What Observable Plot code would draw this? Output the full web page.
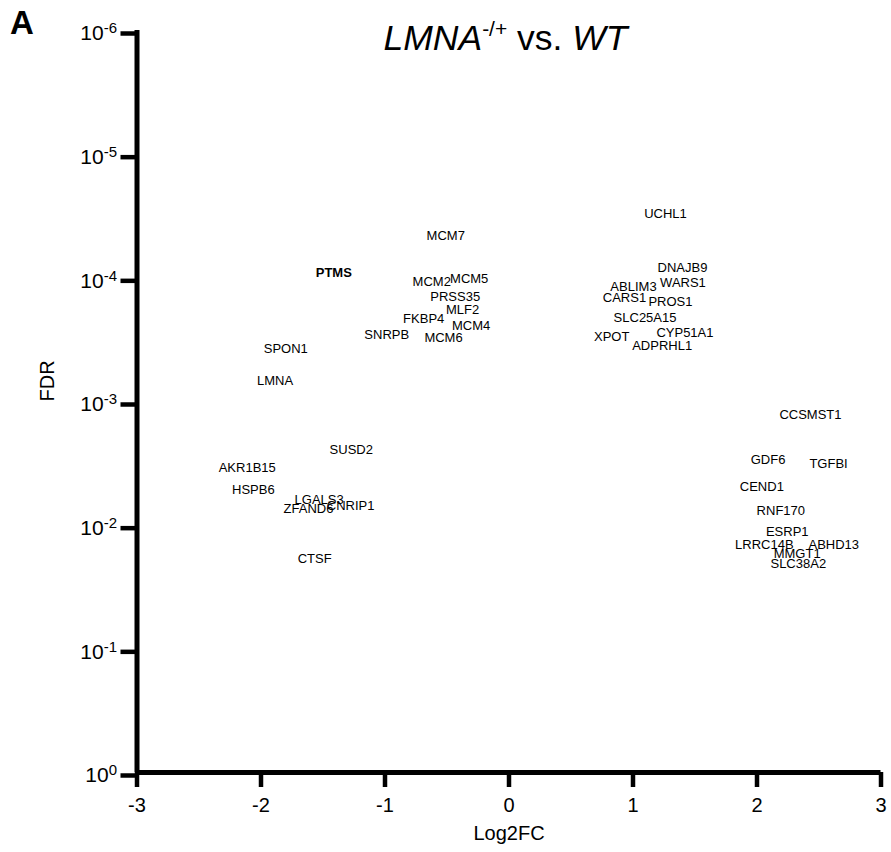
<!DOCTYPE html>
<html>
<head>
<meta charset="utf-8">
<script src="https://cdn.jsdelivr.net/npm/d3@7"></script>
<script src="https://cdn.jsdelivr.net/npm/@observablehq/plot@0.6"></script>
<style>
  body { margin: 0; background: #fff; }
  #chart svg { display: block; }
</style>
</head>
<body>
<div id="chart"></div>
<script>
// Differentially expressed genes: LMNA-/+ vs. WT
const genes = [
  "MCM7", "PTMS", "MCM2", "MCM5", "PRSS35", "MLF2", "FKBP4", "MCM4", "SNRPB", "MCM6",
  "UCHL1", "DNAJB9", "WARS1", "ABLIM3", "CARS1", "PROS1", "SLC25A15", "CYP51A1", "XPOT", "ADPRHL1",
  "SPON1", "LMNA", "SUSD2", "AKR1B15", "HSPB6", "LGALS3", "ZFAND6", "CNRIP1", "CTSF",
  "CCSMST1", "GDF6", "TGFBI", "CEND1", "RNF170", "ESRP1", "LRRC14B", "ABHD13", "MMGT1", "SLC38A2"
];
const log2fc = [
  -0.510, -1.413, -0.623, -0.321, -0.434, -0.375, -0.688, -0.306, -0.986, -0.528,
  1.262, 1.399, 1.403, 1.004, 0.931, 1.302, 1.097, 1.419, 0.828, 1.235,
  -1.800, -1.887, -1.272, -2.111, -2.062, -1.531, -1.617, -1.277, -1.567,
  2.431, 2.089, 2.577, 2.039, 2.192, 2.244, 2.059, 2.619, 2.324, 2.333
];
const fdr = [
  4.54e-5, 9.16e-5, 1.08e-4, 1.02e-4, 1.43e-4, 1.81e-4, 2.14e-4, 2.43e-4, 2.88e-4, 3.07e-4,
  3.03e-5, 8.28e-5, 1.09e-4, 1.19e-4, 1.45e-4, 1.55e-4, 2.12e-4, 2.80e-4, 3.01e-4, 3.52e-4,
  3.74e-4, 6.84e-4, 2.48e-3, 3.43e-3, 5.16e-3, 6.22e-3, 7.36e-3, 6.92e-3, 1.87e-2,
  1.29e-3, 2.99e-3, 3.22e-3, 4.92e-3, 7.69e-3, 1.14e-2, 1.43e-2, 1.43e-2, 1.72e-2, 2.05e-2
];
const emphasized = ["PTMS"];

const xTicks = [-3, -2, -1, 0, 1, 2, 3];
const yTicks = [1e-6, 1e-5, 1e-4, 1e-3, 1e-2, 1e-1, 1];

const FONT = "'Liberation Sans', Arial, Helvetica, sans-serif";

const rows = genes.map((gene, i) => ({gene, log2fc: log2fc[i], fdr: fdr[i]}));
const plain = rows.filter(d => !emphasized.includes(d.gene));
const bold = rows.filter(d => emphasized.includes(d.gene));

const chart = Plot.plot({
  width: 891,
  height: 852,
  marginTop: 30,
  marginBottom: 80,
  marginLeft: 136.5,
  marginRight: 10.5,
  style: {fontFamily: FONT, background: "#fff", color: "#000", overflow: "visible"},
  x: {domain: [-3, 3]},
  y: {type: "log", domain: [1e-6, 1], reverse: true},
  marks: [
    Plot.ruleX([-3], {strokeWidth: 5}),
    Plot.ruleY([1], {strokeWidth: 5}),
    Plot.axisX({
      ticks: xTicks, tickSize: 15, tickPadding: 10, strokeWidth: 4.5,
      fontSize: 20, tickFormat: d => String(d), label: null
    }),
    Plot.axisY({
      ticks: yTicks, tickSize: 16, tickPadding: 4, strokeWidth: 4.5,
      fontSize: 21, dy: 3, tickFormat: d => "10^" + Math.round(Math.log10(d)), label: null
    }),
    Plot.text(plain, {x: "log2fc", y: "fdr", text: "gene", fontSize: 13, fill: "#000"}),
    Plot.text(bold, {x: "log2fc", y: "fdr", text: "gene", fontSize: 13, fill: "#000", fontWeight: 600}),
    Plot.text(["Log2FC"], {frameAnchor: "bottom", dy: 67, fontSize: 20, text: d => d}),
    Plot.text(["FDR"], {frameAnchor: "left", dx: -89, rotate: -90, fontSize: 20, text: d => d})
  ]
});

document.getElementById("chart").appendChild(chart);

const svg = d3.select(chart);

// Powers of ten: split "10^e" into base and raised exponent
svg.selectAll('g[aria-label="y-axis tick label"] text').each(function () {
  const s = this.textContent;
  const [base, exp] = s.split("^");
  const t = d3.select(this);
  t.text(null);
  t.append("tspan").text(base);
  t.append("tspan").attr("font-size", 15).attr("dy", "-0.45em").text(exp);
});

// Title
const title = svg.append("text")
  .attr("x", 505.5).attr("y", 50)
  .attr("text-anchor", "middle")
  .attr("font-family", FONT)
  .attr("font-size", 35.5)
  .attr("fill", "#000");
title.append("tspan").attr("font-style", "italic").text("LMNA");
title.append("tspan").attr("font-size", 21).attr("dy", -14).text("-/+");
title.append("tspan").attr("dy", 14).text(" vs. ");
title.append("tspan").attr("font-style", "italic").text("WT");

// Panel letter
svg.append("text")
  .attr("x", 10).attr("y", 34)
  .attr("text-anchor", "start")
  .attr("font-family", FONT)
  .attr("font-size", 33)
  .attr("font-weight", "bold")
  .attr("fill", "#000")
  .text("A");
</script>
</body>
</html>
